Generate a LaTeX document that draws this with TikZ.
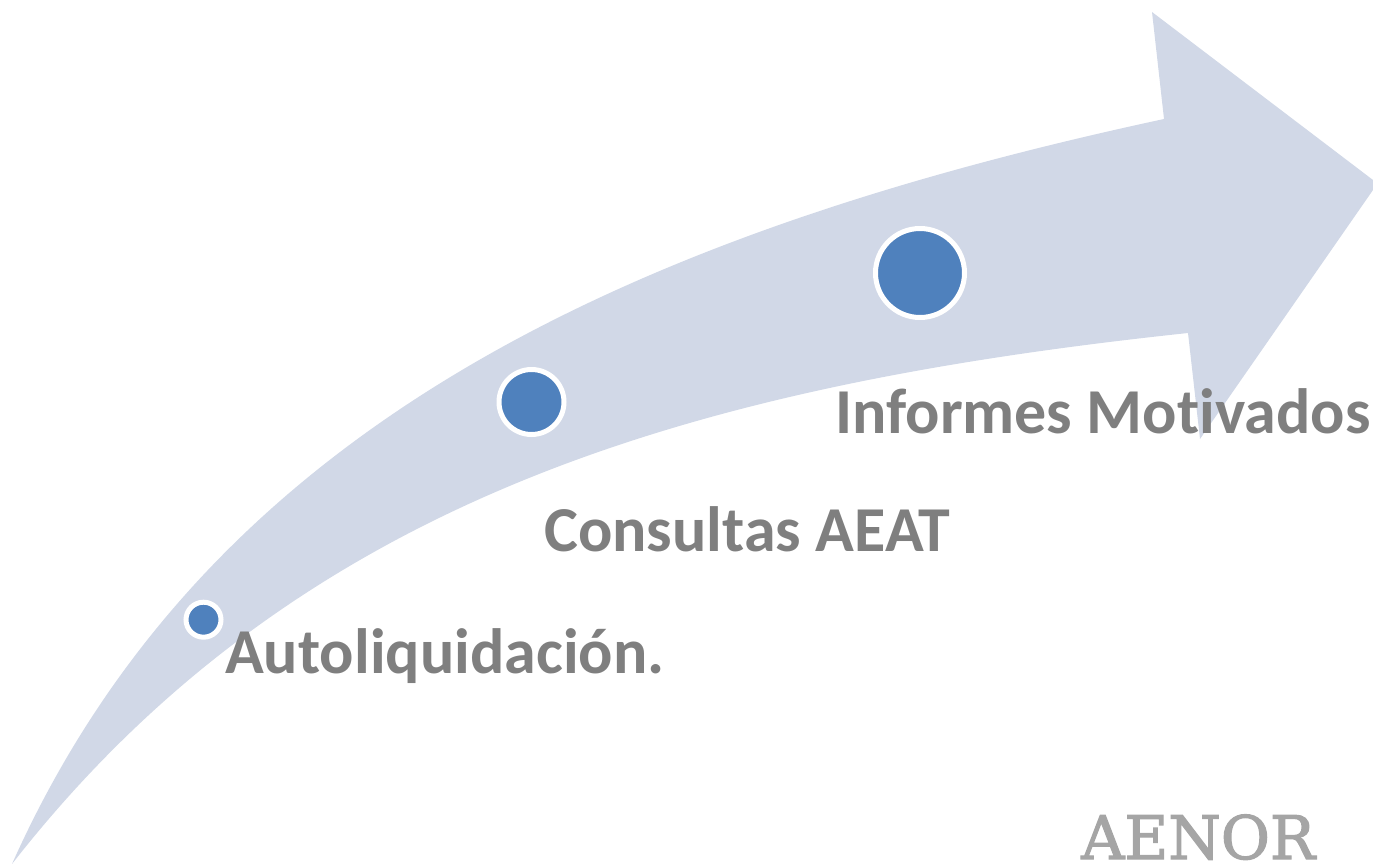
\documentclass[tikz,border=0pt]{standalone}
\usepackage{fontspec}
\setmainfont[Ligatures=CommonOff]{Carlito}
\newfontfamily\logofont[FakeBold=2]{DejaVu Serif}
\definecolor{arrowfill}{HTML}{D1D8E7}
\definecolor{dotblue}{HTML}{4F81BD}
\definecolor{labelgrey}{HTML}{7F7F7F}
\definecolor{logogrey}{HTML}{A5A5A5}
\tikzset{
  dotmark/.style={circle,fill=dotblue,draw=white,line width=5pt,inner sep=0pt},
  steplabel/.style={text=labelgrey,font=\fontsize{64}{64}\selectfont\bfseries,anchor=base west,inner sep=0pt},
}
\begin{document}
\begin{tikzpicture}[x=1pt,y=-1pt]
\useasboundingbox (0,0) rectangle (1373,864);
\fill[arrowfill] (12,864) .. controls (205,432) and (620,236) .. (1164,119)
 -- (1152,12) -- (1373,180) -- (1373,190) -- (1200,439) -- (1188,333)
 .. controls (700,385) and (300,495) .. (12,864) -- cycle;
\node[dotmark,minimum size=35pt] (d1) at (203.5,619.7) {};
\node[dotmark,minimum size=65pt] (d2) at (531.5,402) {};
\node[dotmark,minimum size=89pt] (d3) at (920,273) {};
\node[steplabel] (t1) at (225,673.5) {Autoliquidación.};
\node[steplabel] (t2) at (544,551) {Consultas AEAT};
\node[steplabel] (t3) at (835,433.5) {Informes Motivados};
\node[text=logogrey,font=\logofont\fontsize{60}{60}\selectfont,anchor=base west,inner sep=0pt] (logo) at (1081,859) {AENOR};
\end{tikzpicture}
\end{document}
